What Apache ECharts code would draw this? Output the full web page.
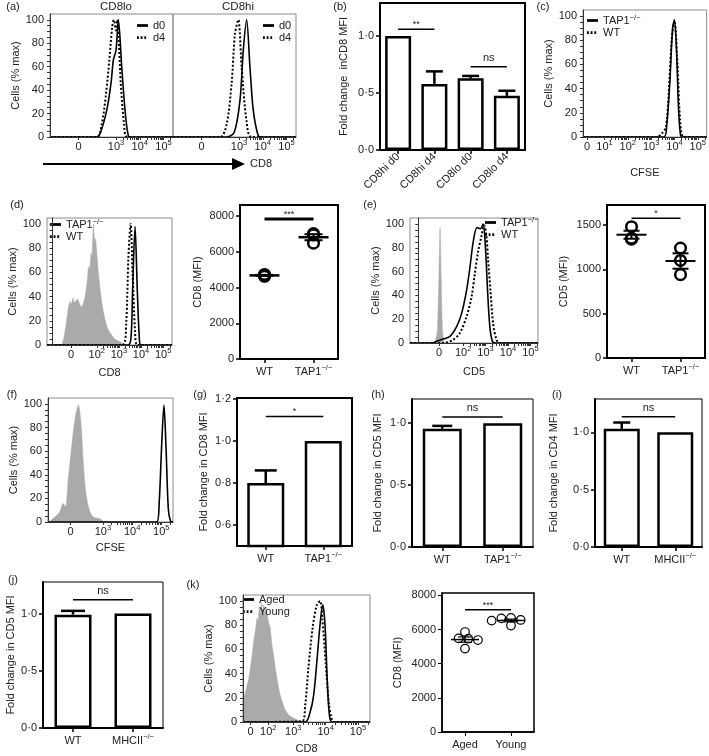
<!DOCTYPE html>
<html>
<head>
<meta charset="utf-8">
<script src="https://cdn.jsdelivr.net/npm/echarts@6/dist/echarts.min.js"></script>
<style>html,body{margin:0;padding:0;background:#fff;} #chart{width:709px;height:756px;}</style>
</head>
<body>
<div id="chart"></div>
<script>
// ================= DATA =================
// Flow histograms: x in biexponential display units (decades), y in % of max
// (a)
const aTickPos = [1.42, 3, 4, 5];
const aTickTxt = ['0', '10^3', '10^4', '10^5'];
const aLoD0 = [[0.22,0],[2.18,0],[2.33,3],[2.61,23],[2.79,46],[2.89,66],[3.0,74],[3.1,100],[3.24,60],[3.38,23],[3.52,1],[3.66,0],[5.4,0]];
const aLoD4 = [[0.22,0],[2.19,0],[2.4,11],[2.58,37],[2.72,66],[2.84,94],[2.91,100],[3.0,91],[3.05,100],[3.2,46],[3.34,11],[3.48,0],[5.4,0]];
const aHiD0 = [[0.22,0],[2.48,0],[2.8,4],[3.04,31],[3.18,74],[3.32,100],[3.46,60],[3.6,23],[3.81,1],[3.95,0],[5.4,0]];
const aHiD4 = [[0.22,0],[2.2,0],[2.48,11],[2.69,46],[2.83,88],[2.97,100],[3.11,60],[3.32,13],[3.53,0],[5.4,0]];
// (b)
const bCats = ['CD8hi d0', 'CD8hi d4', 'CD8lo d0', 'CD8lo d4'];
const bMean = [1.0, 0.58, 0.63, 0.475];
const bSem = [0, 0.11, 0.02, 0.045];
const bSigFrom = [0, 2], bSigTo = [1, 3], bSigY = [1.06, 0.73], bSigText = ['**', 'ns'];
// (c)
const cTickPos = [0.25, 1, 2, 3, 4, 5];
const cTickTxt = ['0', '10^1', '10^2', '10^3', '10^4', '10^5'];
const cTap = [[0.08,0],[3.54,0],[3.67,10],[3.8,45],[3.92,90],[4.0,97],[4.09,70],[4.17,25],[4.25,3],[4.33,0],[5.38,0]];
const cWt = [[0.08,0],[3.25,0],[3.46,3],[3.63,8],[3.75,35],[3.88,80],[4.0,96],[4.13,60],[4.25,12],[4.41,0],[5.38,0]];
// (d)
const dTickPos = [0.84, 2, 3, 4, 5];
const dTickTxt = ['0', '10^2', '10^3', '10^4', '10^5'];
const dGray = [[0.42,0],[0.5,5],[0.57,12],[0.65,22],[0.72,32],[0.8,36],[0.86,33],[0.92,39],[0.98,35],[1.07,34],[1.13,38],[1.22,37],[1.3,31],[1.37,33],[1.45,38],[1.52,46],[1.58,55],[1.62,65],[1.68,62],[1.74,76],[1.78,72],[1.82,88],[1.85,100],[1.9,85],[1.95,88],[2.0,76],[2.07,60],[2.15,46],[2.25,32],[2.37,21],[2.48,14],[2.6,10],[2.8,5],[3.0,3],[3.2,1],[3.35,0]];
const dTap = [[-0.25,0],[3.42,0],[3.55,7],[3.62,46],[3.73,98],[3.83,46],[3.92,7],[4.0,0],[5.4,0]];
const dWt = [[-0.25,0],[3.18,0],[3.33,18],[3.43,73],[3.53,100],[3.62,59],[3.73,12],[3.83,0],[5.4,0]];
const dCats = ['WT', 'TAP1-/-'];
const dDotsWT = [4730, 4680, 4630];
const dDotsTAP = [7020, 6950, 6480];
const dSigY = [7840], dSigText = ['***'];
// (e)
const eTickPos = [0.93, 2, 3, 4, 5];
const eTickTxt = ['0', '10^2', '10^3', '10^4', '10^5'];
const eGray = [[0.75,0],[0.85,10],[0.92,55],[0.97,97],[1.02,55],[1.08,10],[1.15,0]];
const eTap = [[-0.37,0],[0.6,0],[0.82,1.4],[1.11,3.3],[1.41,5.5],[1.71,13.7],[1.93,24.7],[2.15,43.8],[2.3,63],[2.45,85],[2.62,97],[2.77,96],[2.89,100],[3.0,79],[3.09,44],[3.19,14],[3.31,1.4],[3.49,0],[5.34,0]];
const eWt = [[-0.37,0],[1.1,0],[1.26,0.5],[1.55,2.7],[1.85,8.2],[2.15,22],[2.37,38],[2.52,58],[2.67,77],[2.82,90],[2.94,99],[3.04,90],[3.11,71],[3.22,44],[3.34,16],[3.49,2.7],[3.63,0],[5.34,0]];
const eCats = ['WT', 'TAP1-/-'];
const eDotsWT = [1480, 1350, 1340];
const eDotsTAP = [1240, 1100, 940];
const eSigY = [1575], eSigText = ['*'];
// (f)
const fTickPos = [1.89, 3, 4, 5];
const fTickTxt = ['0', '10^3', '10^4', '10^5'];
const fGray = [[1.12,0],[1.18,0.6],[1.35,4.2],[1.52,8.5],[1.64,15.6],[1.72,12.7],[1.81,35.4],[1.93,63.7],[2.04,86.4],[2.16,99],[2.25,83.6],[2.33,49.6],[2.42,24.1],[2.54,9.9],[2.67,4.2],[2.9,2.8],[3.01,0.6],[3.1,0]];
const fSolid = [[1.12,0],[4.84,0],[4.93,18],[5.01,64],[5.09,99],[5.16,64],[5.24,11],[5.32,0.5],[5.4,0]];
// (g)
const gCats = ['WT', 'TAP1-/-'];
const gMean = [0.80, 1.0];
const gSem = [0.06, 0];
const gSigY = [1.117], gSigText = ['*'];
// (h)
const hCats = ['WT', 'TAP1-/-'];
const hMean = [0.955, 1.0];
const hSem = [0.023, 0];
const hSigY = [1.05], hSigText = ['ns'];
// (i)
const iCats = ['WT', 'MHCII-/-'];
const iMean = [1.03, 1.0];
const iSem = [0.055, 0];
const iSigY = [1.135], iSigText = ['ns'];
// (j)
const jCats = ['WT', 'MHCII-/-'];
const jMean = [0.99, 1.0];
const jSem = [0.033, 0];
const jSigY = [1.12], jSigText = ['ns'];
// (k)
const kTickPos = [1.68, 2.23, 3, 4, 5];
const kTickTxt = ['0', '10^2', '10^3', '10^4', '10^5'];
const kGray = [[1.45,19],[1.52,24],[1.58,31],[1.63,36],[1.68,45],[1.73,55],[1.78,67],[1.83,75],[1.88,86],[1.92,83],[1.95,95],[1.98,90],[2.02,99],[2.05,92],[2.08,97],[2.12,88],[2.16,95],[2.19,90],[2.24,82],[2.29,78],[2.34,64],[2.39,56],[2.45,44],[2.5,36],[2.55,28],[2.6,22],[2.68,15],[2.75,10],[2.85,6],[2.96,4],[3.06,2.5],[3.16,1.4],[3.37,0]];
const kAged = [[1.45,0],[3.37,0],[3.52,8],[3.63,22],[3.73,50],[3.83,81],[3.91,97],[3.98,81],[4.05,35],[4.12,5],[4.2,0],[5.37,0]];
const kYoung = [[1.45,0],[3.27,0.5],[3.37,14],[3.47,45],[3.6,78],[3.73,97],[3.83,100],[3.9,85],[4.0,50],[4.1,15],[4.18,3],[4.25,0],[5.37,0]];
const kCats = ['Aged', 'Young'];
const kDotsAged = [5850, 5480, 5460, 5380, 4880];
const kDotsYoung = [6680, 6650, 6560, 6520, 6230];
const kSigY = [7150], kSigText = ['***'];

// ================= STYLE / HELPERS =================
const FONT = 'Liberation Sans, Arial, Helvetica, sans-serif';
const INK = '#222';
const RICH = {
  b: {fontSize: 11, fontFamily: FONT, color: INK, lineHeight: 16},
  s: {fontSize: 7.5, fontFamily: FONT, color: INK, lineHeight: 9, verticalAlign: 'top'}
};
const RICH_L = {
  b: {fontSize: 11, fontFamily: FONT, color: INK, lineHeight: 13},
  s: {fontSize: 7.5, fontFamily: FONT, color: INK, lineHeight: 7, verticalAlign: 'top'}
};
const NAME_STYLE = {fontSize: 11, color: INK, fontFamily: FONT};
const ICON_SOLID = 'path://M0,0L12,0L12,3L0,3Z';
const ICON_DOT = 'path://M0,0L2,0L2,3L0,3ZM4,0L6,0L6,3L4,3ZM8,0L10,0L10,3L8,3ZM12,0L12,0L12,3L12,3Z';
function supRich(s) {
  if (s.indexOf('^') >= 0) { const p = s.split('^'); return '{b|' + p[0] + '}{s|' + p[1] + '}'; }
  if (/-\/-$/.test(s)) return '{b|' + s.slice(0, -3) + '}{s|\u2212/\u2212}';
  return '{b|' + s + '}';
}
function nearest(arr, v) { let bi = 0; arr.forEach((a, i) => { if (Math.abs(a - v) < Math.abs(arr[bi] - v)) bi = i; }); return bi; }
function range(a, b, s) { const r = []; for (let v = a; v <= b + 1e-9; v += s) r.push(+v.toFixed(6)); return r; }
const avg = a => a.reduce((s, v) => s + v, 0) / a.length;
const sem = a => { const m = avg(a); return Math.sqrt(a.reduce((s, v) => s + (v - m) * (v - m), 0) / (a.length - 1) / a.length); };
const dotFmt = v => v.toFixed(1).replace('.', '\u00B7');

const opt = {animation: false, backgroundColor: '#fff', color: ['#000'], textStyle: {fontFamily: FONT, color: INK},
  grid: [], xAxis: [], yAxis: [], series: [], legend: [], graphic: []};

function addGrid(box, color, w) {
  opt.grid.push({left: box[0], top: box[1], width: box[2], height: box[3], show: true,
    borderColor: color, borderWidth: w, backgroundColor: 'rgba(0,0,0,0)'});
  return opt.grid.length - 1;
}

function flowPanel(box, xr, tickPos, tickTxt, minorFrom, xName, xGap, showY, yGap, curves) {
  const g = addGrid(box, '#8c8c8c', 1);
  const minors = [];
  for (let k = Math.floor(minorFrom); k < 6; k++) for (let m = 2; m < 10; m++) {
    const v = k + Math.log10(m); if (v > minorFrom && v < xr[1]) minors.push(v);
  }
  opt.xAxis.push({type: 'value', gridIndex: g, min: xr[0], max: xr[1], z: 5,
    name: xName, nameLocation: 'middle', nameGap: xGap, nameTextStyle: NAME_STYLE,
    axisLine: {show: true, onZero: false, lineStyle: {color: '#333', width: 1}}, splitLine: {show: false},
    axisTick: {show: true, customValues: tickPos.concat(minors), length: 3, lineStyle: {color: '#333', width: 1}},
    axisLabel: {customValues: tickPos, margin: 2, formatter: v => supRich(tickTxt[nearest(tickPos, v)]), rich: RICH}});
  if (showY) {
    opt.yAxis.push({type: 'value', gridIndex: g, min: 0, max: 105, z: 5,
      name: 'Cells (% max)', nameLocation: 'middle', nameGap: yGap, nameTextStyle: NAME_STYLE,
      axisLine: {show: true, lineStyle: {color: '#333', width: 1}}, splitLine: {show: false},
      axisTick: {show: true, customValues: range(0, 100, 5), length: 3, lineStyle: {color: '#333'}},
      axisLabel: {customValues: [0, 20, 40, 60, 80, 100], margin: 6, fontSize: 11, color: INK, fontFamily: FONT}});
  } else {
    opt.yAxis.push({type: 'value', gridIndex: g, min: 0, max: 105, show: false});
  }
  curves.forEach(c => {
    const s = {type: 'line', name: c.name, xAxisIndex: g, yAxisIndex: g, data: c.data, symbol: 'none',
      smooth: c.smooth == null ? 0.3 : c.smooth, silent: true, z: c.z || 3,
      itemStyle: {color: c.color || '#000'},
      lineStyle: {color: c.color || '#000', width: c.width || 1.6, type: c.type || 'solid'}};
    if (c.fill) s.areaStyle = {color: c.fill, opacity: 1};
    opt.series.push(s);
  });
  return g;
}

function catAxis(g, cats, w, rotate) {
  opt.xAxis.push({type: 'category', gridIndex: g, data: cats, boundaryGap: true, z: 5,
    axisLine: {show: true, onZero: false, lineStyle: {color: '#000', width: w}},
    axisTick: {show: true, alignWithLabel: true, length: 4, lineStyle: {color: '#000', width: Math.max(1, w - 0.5)}},
    axisLabel: {interval: 0, margin: 5, rotate: rotate || 0, formatter: v => supRich(v), rich: RICH}});
}
function valAxis(g, min, max, labVals, fmt, name, gap, w) {
  opt.yAxis.push({type: 'value', gridIndex: g, min: min, max: max, z: 5,
    name: name, nameLocation: 'middle', nameGap: gap, nameTextStyle: NAME_STYLE,
    axisLine: {show: true, lineStyle: {color: '#000', width: w}}, splitLine: {show: false},
    axisTick: {show: true, customValues: labVals, length: 4, lineStyle: {color: '#000', width: Math.max(1, w - 0.5)}},
    axisLabel: {customValues: labVals, margin: 6, fontSize: 11, color: INK, fontFamily: FONT, formatter: fmt}});
}

function sigSeries(g, from, to, ys, txts, lw) {
  opt.series.push({type: 'custom', xAxisIndex: g, yAxisIndex: g, silent: true, z: 6, encode: {x: 0, y: 2},
    data: from.map((f, i) => [f, to[i], ys[i]]),
    renderItem: (p, api) => {
      const t = txts[p.dataIndex];
      const a = api.coord([api.value(0), api.value(2)]), b = api.coord([api.value(1), api.value(2)]);
      const star = t.indexOf('*') >= 0;
      return {type: 'group', children: [
        {type: 'line', shape: {x1: a[0], y1: a[1], x2: b[0], y2: b[1]}, style: {stroke: '#000', lineWidth: lw}},
        {type: 'text', x: (a[0] + b[0]) / 2, y: a[1] - (star ? 0 : 3),
         style: {text: t, align: 'center', verticalAlign: 'bottom', fill: INK, fontSize: star ? 9 : 11, fontFamily: FONT}}
      ]};
    }});
}

function errSeries(g, means, sems, cap, lw) {
  opt.series.push({type: 'custom', xAxisIndex: g, yAxisIndex: g, silent: true, z: 4, encode: {x: 0, y: 1},
    data: means.map((m, i) => [i, m, sems[i]]),
    renderItem: (p, api) => {
      const e = api.value(2);
      if (!e) return {type: 'group', children: []};
      const a = api.coord([api.value(0), api.value(1)]), b = api.coord([api.value(0), api.value(1) + e]);
      return {type: 'group', children: [
        {type: 'line', shape: {x1: a[0], y1: a[1], x2: b[0], y2: b[1]}, style: {stroke: '#000', lineWidth: lw}},
        {type: 'line', shape: {x1: b[0] - cap / 2, y1: b[1], x2: b[0] + cap / 2, y2: b[1]}, style: {stroke: '#000', lineWidth: lw}}
      ]};
    }});
}

function barPanel(box, cats, means, sems, yMin, yMax, labVals, sigY, sigText, yName, yGap, st) {
  const g = addGrid(box, '#000', st.frame);
  catAxis(g, cats, st.axisW, st.rotate);
  valAxis(g, yMin, yMax, labVals, dotFmt, yName, yGap, st.axisW);
  opt.series.push({type: 'bar', xAxisIndex: g, yAxisIndex: g, data: means, barWidth: st.barW, silent: true, clip: true, z: 2,
    itemStyle: {color: '#fff', borderColor: '#000', borderWidth: st.barBorder}});
  errSeries(g, means, sems, st.cap, st.errW);
  const from = sigY.map((_, i) => st.sigPairs ? st.sigPairs[i][0] : 0);
  const to = sigY.map((_, i) => st.sigPairs ? st.sigPairs[i][1] : 1);
  sigSeries(g, from, to, sigY, sigText, st.sigW);
}

function swarmX(pys, r, step, minD) {
  const placed = [], out = [];
  pys.forEach(y => {
    let dx = 0;
    for (let k = 0; k < 40; k++) {
      const cand = k === 0 ? 0 : (k % 2 ? -1 : 1) * Math.ceil(k / 2) * step;
      if (placed.every(p => Math.hypot(p[0] - cand, p[1] - y) >= minD)) { dx = cand; break; }
    }
    placed.push([dx, y]); out.push(dx);
  });
  return out;
}

function dotPanel(box, cats, groups, yMax, labVals, sigY, sigText, yName, yGap, st) {
  const g = addGrid(box, '#000', st.frame);
  catAxis(g, cats, st.axisW, 0);
  valAxis(g, 0, yMax, labVals, v => String(v), yName, yGap, st.axisW);
  const data = [];
  groups.forEach((arr, c) => arr.forEach((v, k) => data.push([c, v, k])));
  opt.series.push({type: 'custom', xAxisIndex: g, yAxisIndex: g, silent: true, z: 3, encode: {x: 0, y: 1}, data: data,
    renderItem: (p, api) => {
      const c = api.value(0), v = api.value(1), k = api.value(2);
      const pt = api.coord([c, v]);
      let dx = 0;
      if (st.swarm) {
        const pys = groups[c].map(u => api.coord([c, u])[1]);
        dx = swarmX(pys, st.r, st.r * 0.75, st.r * 1.7)[k];
      }
      return {type: 'circle', shape: {cx: pt[0] + dx, cy: pt[1], r: st.r}, style: {fill: 'none', stroke: '#000', lineWidth: st.lw}};
    }});
  opt.series.push({type: 'custom', xAxisIndex: g, yAxisIndex: g, silent: true, z: 4, encode: {x: 0, y: 1},
    data: groups.map((arr, c) => [c, avg(arr), sem(arr)]),
    renderItem: (p, api) => {
      const c = api.value(0), m = api.value(1), e = api.value(2);
      const pm = api.coord([c, m]), pt = api.coord([c, m + e]), pb = api.coord([c, m - e]);
      const L = (x1, y1, x2, y2, w) => ({type: 'line', shape: {x1, y1, x2, y2}, style: {stroke: '#000', lineWidth: w}});
      return {type: 'group', children: [
        L(pm[0] - st.meanLen / 2, pm[1], pm[0] + st.meanLen / 2, pm[1], st.meanW),
        L(pt[0], pt[1], pb[0], pb[1], st.semW),
        L(pt[0] - st.semLen / 2, pt[1], pt[0] + st.semLen / 2, pt[1], st.semW),
        L(pb[0] - st.semLen / 2, pb[1], pb[0] + st.semLen / 2, pb[1], st.semW)
      ]};
    }});
  sigSeries(g, [0], [1], sigY, sigText, st.sigW);
}

function addLegend(left, top, names, labels, dotted) {
  opt.legend.push({left: left, top: top, orient: 'vertical', padding: 0, itemGap: 1, itemWidth: 11, itemHeight: 3,
    selectedMode: false,
    data: names.map((n, i) => ({name: n, icon: dotted[i] ? ICON_DOT : ICON_SOLID, itemStyle: {color: '#000', borderWidth: 0}})),
    itemStyle: {color: '#000', borderWidth: 0},
    formatter: n => supRich(labels[names.indexOf(n)]),
    textStyle: {rich: RICH_L, fontSize: 11}});
}

// ================= PANELS =================
const GRAY = '#aaaaaa';
// (a)
flowPanel([50, 14, 123, 123], [0.22, 5.4], aTickPos, aTickTxt, 3, '', 0, true, 29, [
  {name: 'd4', data: aLoD4, type: 'dotted', width: 2},
  {name: 'd0', data: aLoD0}]);
flowPanel([173, 14, 123, 123], [0.22, 5.4], aTickPos, aTickTxt, 3, '', 0, false, 0, [
  {name: 'd4', data: aHiD4, type: 'dotted', width: 2},
  {name: 'd0', data: aHiD0}]);
addLegend(137, 20, ['d0', 'd4'], ['d0', 'd4'], [false, true]);
addLegend(263, 20, ['d0', 'd4'], ['d0', 'd4'], [false, true]);
// (b)
barPanel([380, 3, 145, 147], bCats, bMean, bSem, 0, 1.29, [0, 0.5, 1.0], bSigY, bSigText,
  'Fold change  inCD8 MFI', 31,
  {frame: 2, axisW: 2, barW: 26, barBorder: 2.5, cap: 17, errW: 2.5, sigW: 1.5, rotate: 45,
   sigPairs: bSigFrom.map((f, i) => [f, bSigTo[i]])});
// (c)
flowPanel([583, 10, 125, 127], [0.08, 5.38], cTickPos, cTickTxt, 1, 'CFSE', 30, true, 25, [
  {name: 'c_wt', data: cWt, type: 'dotted', width: 2},
  {name: 'c_tap', data: cTap}]);
addLegend(587, 14, ['c_tap', 'c_wt'], ['TAP1-/-', 'WT'], [false, true]);
// (d)
flowPanel([47, 218, 125, 127], [-0.25, 5.4], dTickPos, dTickTxt, 2, 'CD8', 22, true, 28, [
  {name: 'd_gray', data: dGray, color: GRAY, width: 0.5, fill: GRAY, smooth: 0, z: 2},
  {name: 'd_wt', data: dWt, type: 'dotted', width: 2},
  {name: 'd_tap', data: dTap}]);
addLegend(50, 218, ['d_tap', 'd_wt'], ['TAP1-/-', 'WT'], [false, true]);
dotPanel([240, 205, 98, 154], dCats, [dDotsWT, dDotsTAP], 8620, [0, 2000, 4000, 6000, 8000], dSigY, dSigText,
  'CD8 (MFI)', 37, {frame: 2, axisW: 2, r: 5.3, lw: 2.5, meanLen: 30, semLen: 18, meanW: 2.5, semW: 2, sigW: 3});
// (e)
flowPanel([410, 218, 128, 125], [-0.37, 5.34], eTickPos, eTickTxt, 2, 'CD5', 23, true, 29, [
  {name: 'e_gray', data: eGray, color: GRAY, width: 0.5, fill: GRAY, smooth: 0.2, z: 2},
  {name: 'e_wt', data: eWt, type: 'dotted', width: 2},
  {name: 'e_tap', data: eTap}]);
addLegend(485, 216, ['e_tap', 'e_wt'], ['TAP1-/-', 'WT'], [false, true]);
dotPanel([607, 205, 98, 153], eCats, [eDotsWT, eDotsTAP], 1725, [0, 500, 1000, 1500], eSigY, eSigText,
  'CD5 (MFI)', 38, {frame: 2, axisW: 2, r: 5.3, lw: 2.5, meanLen: 30, semLen: 16, meanW: 2, semW: 2, sigW: 1.5});
// (f)
flowPanel([48, 398, 125, 124], [1.12, 5.4], fTickPos, fTickTxt, 3, 'CFSE', 20, true, 27, [
  {name: 'f_gray', data: fGray, color: GRAY, width: 0.5, fill: GRAY, smooth: 0.3, z: 2},
  {name: 'f_solid', data: fSolid}]);
// (g)
barPanel([237, 398, 115, 148], gCats, gMean, gSem, 0.5, 1.205, [0.6, 0.8, 1.0, 1.2], gSigY, gSigText,
  'Fold change in CD8 MFI', 28, {frame: 2, axisW: 2, barW: 37, barBorder: 2.5, cap: 22, errW: 2.5, sigW: 1.5});
// (h)
barPanel([412, 399, 121, 148], hCats, hMean, hSem, 0, 1.195, [0, 0.5, 1.0], hSigY, hSigText,
  'Fold change in CD5 MFI', 29, {frame: 1, axisW: 2, barW: 39, barBorder: 2.5, cap: 20, errW: 2.5, sigW: 1.5});
// (i)
barPanel([595, 399, 107, 148], iCats, iMean, iSem, 0, 1.29, [0, 0.5, 1.0], iSigY, iSigText,
  'Fold change in CD4 MFI', 36, {frame: 1, axisW: 2, barW: 36, barBorder: 2.5, cap: 17, errW: 2.5, sigW: 1.5});
// (j)
barPanel([43, 582, 120, 146], jCats, jMean, jSem, 0, 1.275, [0, 0.5, 1.0], jSigY, jSigText,
  'Fold change in CD5 MFI', 27, {frame: 1, axisW: 2, barW: 37, barBorder: 2.5, cap: 24, errW: 2.5, sigW: 1.5});
// (k)
flowPanel([243, 595, 127, 127], [1.45, 5.37], kTickPos, kTickTxt, 3, 'CD8', 21, true, 27, [
  {name: 'k_gray', data: kGray, color: GRAY, width: 0.5, fill: GRAY, smooth: 0, z: 2},
  {name: 'k_young', data: kYoung, type: 'dotted', width: 2},
  {name: 'k_aged', data: kAged}]);
addLegend(243, 594, ['k_aged', 'k_young'], ['Aged', 'Young'], [false, true]);
dotPanel([442, 593, 92, 139], kCats, [kDotsAged, kDotsYoung], 8135, [0, 2000, 4000, 6000, 8000], kSigY, kSigText,
  'CD8 (MFI)', 39, {frame: 1.5, axisW: 1.5, r: 4.3, lw: 1.2, meanLen: 28, semLen: 14, meanW: 1.5, semW: 1.2, sigW: 1.5, swarm: true});

// ================= ANNOTATIONS =================
const panelLabels = [['(a)', 13, 7], ['(b)', 340, 7], ['(c)', 543, 7], ['(d)', 17, 205], ['(e)', 370, 205],
  ['(f)', 12, 395], ['(g)', 200, 395], ['(h)', 378, 395], ['(i)', 557, 395], ['(j)', 13, 580], ['(k)', 193, 585]];
panelLabels.forEach(([t, x, y]) => opt.graphic.push({type: 'text', x: x, y: y, silent: true,
  style: {text: t, fontSize: 11, fontFamily: FONT, fill: INK, align: 'center', verticalAlign: 'middle'}}));
[['CD8lo', 116, 7], ['CD8hi', 238, 7]].forEach(([t, x, y]) => opt.graphic.push({type: 'text', x: x, y: y, silent: true,
  style: {text: t, fontSize: 11.5, fontFamily: FONT, fill: INK, align: 'center', verticalAlign: 'middle'}}));
opt.graphic.push({type: 'line', silent: true, shape: {x1: 43, y1: 164, x2: 236, y2: 164}, style: {stroke: '#000', lineWidth: 2}});
opt.graphic.push({type: 'polygon', silent: true, shape: {points: [[232, 158], [245, 164], [232, 170]]}, style: {fill: '#000'}});
opt.graphic.push({type: 'text', x: 250, y: 164, silent: true,
  style: {text: 'CD8', fontSize: 11, fontFamily: FONT, fill: INK, align: 'left', verticalAlign: 'middle'}});

const chart = echarts.init(document.getElementById('chart'), null, {renderer: 'canvas'});
chart.setOption(opt);
</script>
</body>
</html>
